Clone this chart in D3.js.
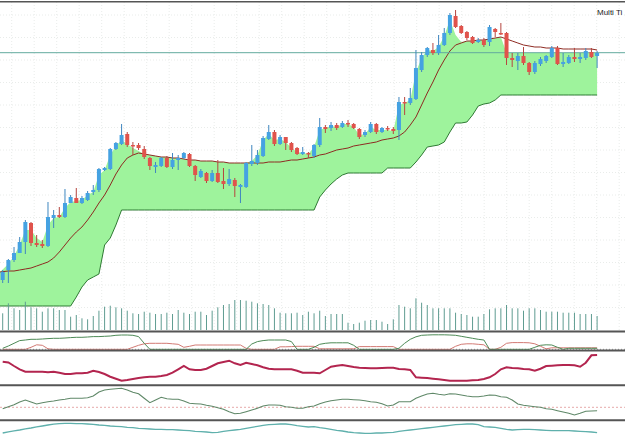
<!DOCTYPE html>
<html>
<head>
<meta charset="utf-8">
<script src="https://cdn.jsdelivr.net/npm/d3@7"></script>
<style>
  body { margin: 0; background: #fff; overflow: hidden; }
  svg { display: block; font-family: "Liberation Sans", "DejaVu Sans", sans-serif; }
</style>
</head>
<body>
<div id="chart"></div>
<script>
// price bars (arbitrary price points)
var open = [50, 60, 70, 77, 88, 107, 87, 86, 84, 112,
    115, 113, 127, 132, 127, 130, 138, 140, 160, 161,
    181, 186, 196, 185, 185, 181, 172, 163, 164, 172,
    163, 170, 172, 176, 164, 153, 157, 149, 157, 149,
    146, 150, 143, 143, 166, 167, 174, 191, 198, 186,
    193, 187, 182, 176, 177, 174, 185, 203, 202, 205,
    203, 207, 206, 201, 195, 198, 206, 198, 202, 201,
    200, 228, 227, 231, 260, 275, 280, 277, 285, 297,
    314, 304, 298, 293, 288, 290, 288, 301, 297, 297,
    272, 269, 274, 267, 258, 266, 269, 273, 282, 266,
    267, 273, 271, 272, 278, 274];
var high = [60, 71, 83, 93, 110, 108, 95, 90, 128, 120,
    123, 141, 135, 142, 134, 139, 145, 162, 163, 182,
    188, 206, 198, 188, 187, 184, 173, 168, 173, 174,
    177, 175, 178, 177, 165, 161, 158, 160, 170, 162,
    161, 152, 146, 168, 185, 180, 194, 205, 200, 195,
    193, 188, 183, 183, 178, 186, 212, 205, 208, 207,
    209, 210, 207, 202, 200, 208, 207, 203, 204, 203,
    233, 233, 242, 280, 278, 283, 287, 295, 302, 317,
    320, 305, 299, 294, 292, 292, 305, 302, 307, 298,
    277, 277, 283, 268, 269, 273, 275, 284, 284, 277,
    275, 282, 277, 282, 282, 279];
var low = [47, 47, 68, 77, 76, 84, 83, 82, 83, 102,
    112, 112, 127, 127, 126, 129, 135, 138, 159, 160,
    180, 185, 183, 175, 180, 171, 160, 157, 163, 162,
    161, 160, 171, 163, 149, 152, 147, 148, 147, 141,
    144, 133, 127, 142, 164, 165, 173, 190, 184, 185,
    180, 178, 175, 175, 172, 172, 183, 197, 199, 200,
    202, 203, 201, 191, 193, 197, 196, 197, 199, 196,
    190, 215, 225, 230, 258, 273, 275, 275, 284, 295,
    302, 296, 290, 286, 287, 283, 284, 293, 295, 265,
    263, 260, 265, 255, 256, 264, 267, 272, 265, 263,
    266, 268, 267, 270, 272, 262];
var close = [58, 70, 77, 88, 108, 87, 85, 84, 113, 115,
    113, 127, 133, 127, 132, 137, 140, 161, 162, 181,
    187, 195, 185, 184, 182, 173, 164, 165, 172, 163,
    170, 172, 177, 164, 155, 159, 149, 157, 148, 146,
    151, 144, 145, 167, 169, 175, 192, 198, 186, 193,
    187, 180, 176, 178, 176, 185, 203, 201, 205, 202,
    207, 206, 202, 193, 198, 206, 198, 202, 201, 199,
    228, 227, 232, 262, 275, 282, 277, 285, 297, 315,
    303, 297, 292, 287, 290, 285, 303, 298, 296, 272,
    270, 274, 267, 258, 267, 271, 274, 282, 266, 268,
    273, 271, 273, 279, 273, 277];
var currentPrice = 277.3;

// moving average
var maLine = [58, 59, 59, 60, 61, 62, 64, 66, 68, 72,
    78, 85, 92, 98, 103, 110, 118, 127, 135, 145,
    156, 165, 172, 175, 177, 176, 175, 174, 173, 173,
    172, 172, 171, 170, 170, 169, 169, 169, 168, 168,
    167, 167, 167, 167, 167, 167, 167, 168, 168, 168,
    169, 170, 170, 171, 172, 173, 175, 176, 178, 180,
    181, 182, 184, 185, 186, 187, 188, 190, 191, 192,
    194, 198, 205, 213, 225, 237, 248, 260, 270, 279,
    285, 287, 289, 289, 290, 290, 291, 292, 293, 291,
    289, 287, 285, 284, 283, 283, 282, 282, 282, 281,
    281, 281, 281, 281, 281, 280];

// trailing stop (lower edge of the band)
var stopLine = [24, 24, 24, 24, 24, 24, 24, 24, 24, 24,
    24, 24, 24, 33, 43, 50, 53, 56, 85, 92,
    105, 120, 120, 120, 120, 120, 120, 120, 120, 120,
    120, 120, 120, 120, 120, 120, 120, 120, 120, 120,
    120, 120, 120, 120, 120, 120, 120, 120, 120, 120,
    120, 120, 120, 120, 120, 120, 133, 140, 146, 151,
    155, 157, 157, 157, 157, 157, 157, 157, 162, 162,
    162, 162, 162, 168, 175, 183, 184, 185, 188, 198,
    207, 207, 208, 215, 224, 226, 227, 230, 235, 235,
    235, 235, 235, 235, 235, 235, 235, 235, 235, 235,
    235, 235, 235, 235, 235, 235];

// upper edge of the band
var bandTop = [58, 66, 74, 85, 100, 100, 92, 88, 105, 112,
    113, 122, 128, 129, 130, 135, 138, 155, 160, 175,
    184, 190, 186, 182, 179, 176, 175, 174, 173, 173,
    172, 172, 171, 170, 170, 169, 169, 169, 168, 168,
    167, 167, 167, 167, 169, 175, 190, 196, 190, 191,
    188, 182, 178, 177, 176, 183, 200, 202, 204, 203,
    206, 206, 203, 195, 196, 203, 200, 200, 200, 199,
    225, 227, 230, 258, 272, 280, 279, 283, 294, 310,
    295, 288, 289, 289, 290, 290, 291, 292, 293, 277,
    277, 277, 277, 277, 277, 277, 277, 277, 277, 277,
    277, 277, 277, 277, 277, 277];

var volume = [16.7, 26.7, 21.7, 20, 28.3, 22.7, 21.7, 18.3, 21.7, 21.7,
    20, 20, 13.3, 15, 11.7, 10.7, 14, 19.3, 23.3, 24.3,
    22.7, 21.7, 19.3, 16.7, 16, 18.3, 17.3, 16, 16, 17.3,
    16, 20, 17.3, 16, 18.3, 18.3, 15, 19.3, 22.7, 25,
    26, 30, 30, 29.3, 28.3, 26.7, 26, 25, 21.7, 17.3,
    16.7, 16.7, 17.3, 15, 18.3, 16.7, 19.3, 14, 16, 16,
    16, 7.3, 6, 7.3, 9.3, 10, 10, 8.3, 6, 10.7,
    25, 23.3, 21.7, 31.7, 27.3, 25, 21.7, 21.7, 21.7, 21.7,
    17.3, 16, 15, 13.3, 13.3, 16, 20.7, 21.7, 21.7, 25,
    21.7, 21.7, 19.3, 21.7, 21.7, 20, 18.3, 18.3, 18.3, 17.3,
    17.3, 17.3, 16, 16, 16, 14];

// panel 2: two directional lines
var dirUp = [1, 3.3, 6, 8.7, 9.3, 10, 10, 10.3, 10.7, 11,
    11, 11.3, 11.7, 12, 12, 12.3, 12.7, 12.7, 13, 13.3,
    14, 14.3, 14.3, 14, 12.7, 6, 0, 0, 0, 0,
    0, 0, 0, 0, 0, 0, 0, 0, 0, 0,
    0, 0, 0, 0, 5.3, 7.7, 8.7, 9.3, 9.3, 9.3,
    9.3, 7.7, 0, 0, 0, 2, 5, 6, 6.5, 6.5,
    6.5, 6.5, 4, 0, 0, 0, 0, 0, 0, 0,
    1, 6, 10, 12.5, 14, 14.3, 14.5, 14.5, 14.5, 14.3,
    14, 13, 12, 11, 10, 9.3, 0, 0, 0, 0,
    0, 0, 0, 0, 2, 4, 4.5, 4.3, 2, 0,
    1, 1, 1, 1, 1, 1];
var dirDown = [0, 0, 0, 0, 0, 2, 4.5, 4, 0.5, 0,
    0, 0, 0, 0, 0, 0, 0, 0, 0, 0,
    0, 0, 0, 2, 4, 5.5, 6, 6, 6, 6,
    5.5, 5, 2, 3, 4.3, 4.3, 4.3, 4.3, 4.3, 4.3,
    4.3, 4.3, 4.3, 1, 0, 0, 0, 0, 0, 2.5,
    2.5, 2.7, 3, 3, 3, 3, 0.5, 0.5, 0.5, 0.5,
    0.5, 0.5, 0.5, 2.7, 2.7, 2.7, 2.7, 2.7, 2.7, 2.7,
    0, 0, 0, 0, 0, 0, 0, 0, 0, 0,
    3, 5, 5.5, 5.5, 5, 4.5, 0, 0, 2, 6,
    6.7, 6.7, 6.7, 6.5, 5.5, 3, 0.5, 1.5, 1.5, 1.5,
    1.5, 1.5, 1.5, 1.5, 1.5, 1.5];

// panel 3
var oscA = [23.3, 22.5, 19, 15.7, 13.3, 13.3, 13.3, 13.3, 12.7, 13.3,
    12.3, 11, 11, 11.7, 11.7, 12.3, 14.3, 13, 11, 8.3,
    6.3, 4.3, 5, 6, 7, 7.7, 8.3, 8.3, 9, 10,
    12.3, 15.7, 19, 15.7, 15, 15, 16.3, 19, 21.7, 23,
    24.3, 21.7, 20, 22.3, 21, 19.7, 17.7, 16.3, 15.7, 15.7,
    15.7, 15.7, 14.3, 12.3, 12.3, 12.3, 11.7, 15, 18.3, 19.3,
    20, 19, 18, 17.3, 17, 16.7, 16.7, 17, 17.3, 17.3,
    16, 15.7, 15, 7.7, 7.3, 7, 6.3, 5.7, 5, 4.3,
    4.3, 4.3, 4.3, 4.7, 5, 6, 7.7, 11, 15.7, 17.7,
    17, 16.7, 16, 15.7, 14.3, 16.3, 19, 19.3, 19.7, 20,
    20, 19.7, 18.3, 22.3, 29.7, 30];

// panel 4
var oscB = [11.3, 13.3, 15.3, 18, 20, 18, 16, 17.3, 18.3, 19,
    20, 20.7, 21.7, 21.7, 21.7, 22.3, 24, 28, 30, 30.7,
    31.3, 31.7, 30, 27.7, 26.3, 21.7, 17.3, 20, 22.7, 21.3,
    20.7, 20.7, 19, 16.7, 16.3, 16, 14.7, 13.7, 12.3, 10.7,
    8.3, 6.3, 6.7, 8.3, 10, 11.7, 14, 15, 15, 14.7,
    13.3, 12.7, 11.7, 11.7, 13.3, 14, 16.3, 18, 19.3, 20,
    20.7, 20.7, 20.3, 20, 19.3, 18.3, 17.7, 16.3, 14, 15,
    18.3, 18.3, 18.3, 21.7, 24, 26, 26.7, 25.7, 25, 26.3,
    26, 25, 24, 23.3, 23.3, 24, 25, 24.7, 23.3, 22.7,
    20, 16, 14.7, 14, 13.3, 12.7, 11.3, 10.7, 9.3, 8,
    6.7, 5, 6.7, 8.7, 9, 9.3];
var oscBMid = 12.7;

// panel 5
var oscC = [2, 3.2, 4.1, 5, 6.2, 7, 8.1, 9, 10, 10.8,
    11.3, 11.7, 11.7, 11.3, 11.3, 11, 10.7, 10, 9.7, 9,
    8.7, 8.3, 7.7, 7.3, 6.7, 6.3, 6, 5.7, 5.7, 5.3,
    5.3, 5, 4.7, 4.3, 3.7, 3.3, 3, 2.3, 2.7, 3.7,
    4.3, 5, 5.7, 6.7, 7.7, 8.7, 9.7, 10.3, 10.7, 11,
    11, 10.3, 9.3, 8.7, 8, 8.3, 7.3, 6.7, 5.7, 4.7,
    4, 3, 2.3, 2, 1.7, 1.7, 2, 2, 2.3, 2.7,
    3.7, 4.3, 5, 5.7, 6.3, 7, 7.7, 8.3, 9, 9.7,
    10.3, 10.7, 11, 11, 10.3, 8.3, 8, 7.7, 6.7, 5.7,
    5, 5.3, 5.7, 5.7, 5.3, 5, 4.7, 4.3, 4.3, 4.3,
    4.3, 4, 3.7, 3.3, 3, 2.3];

var title = "Multi Ti";

var width = 625,
    height = 435;

var bars = open.map(function (o, i) {
    return { i: i, o: o, h: high[i], l: low[i], c: close[i] };
});

var x = d3.scaleLinear().domain([0, open.length - 1]).range([2.7, 597.1]);
var y = d3.scaleLinear().domain([0, 330]).range([330, 0]);
var yVol = d3.scaleLinear().domain([0, 40]).range([330, 290]);
var yDir = d3.scaleLinear().domain([0, 17]).range([349.3, 332.3]);
var yA = d3.scaleLinear().domain([0, 34]).range([385, 351]);
var yB = d3.scaleLinear().domain([0, 34]).range([420, 386]);
var yC = d3.scaleLinear().domain([0, 14]).range([435, 421]);

// band runs to the left edge of the window
function bandX(d) {
    return d.i === 0 ? 0 : x(d.i);
}

var svg = d3.select('#chart')
    .append('svg')
    .attr('width', width)
    .attr('height', height);

svg.append('rect')
    .attr('width', width)
    .attr('height', height)
    .attr('fill', '#fff');

svg.append('clipPath').attr('id', 'mainClip')
    .append('rect')
    .attr('x', 0).attr('y', 2)
    .attr('width', width).attr('height', 329);

var main = svg.append('g').attr('clip-path', 'url(#mainClip)');

// faint dotted grid
var grid = main.append('g')
    .attr('stroke', '#e9ecea')
    .attr('stroke-dasharray', '1,2');
grid.selectAll('line.v')
    .data(d3.range(11.7, width, 22.5))
    .enter().append('line')
    .attr('x1', function (d) { return d; })
    .attr('x2', function (d) { return d; })
    .attr('y1', 2).attr('y2', 330);
grid.selectAll('line.h')
    .data(d3.range(15, 330, 22.5))
    .enter().append('line')
    .attr('x1', 0).attr('x2', width)
    .attr('y1', function (d) { return d; })
    .attr('y2', function (d) { return d; });

// green band
var band = d3.area()
    .x(bandX)
    .y0(function (d) { return y(stopLine[d.i]); })
    .y1(function (d) { return y(bandTop[d.i]); });

main.append('path')
    .datum(bars)
    .attr('d', band)
    .attr('fill', '#9ef39c');

var stopPath = d3.line()
    .x(bandX)
    .y(function (d) { return y(stopLine[d.i]); });

main.append('path')
    .datum(bars)
    .attr('d', stopPath)
    .attr('fill', 'none')
    .attr('stroke', '#2f7a34')
    .attr('stroke-width', 1);

var maPath = d3.line()
    .x(bandX)
    .y(function (d) { return y(maLine[d.i]); });

main.append('path')
    .datum(bars)
    .attr('d', maPath)
    .attr('fill', 'none')
    .attr('stroke', '#8e2a22')
    .attr('stroke-width', 1);

// current price line
main.append('line')
    .attr('x1', 0).attr('x2', width)
    .attr('y1', y(currentPrice)).attr('y2', y(currentPrice))
    .attr('stroke', '#63ab9e')
    .attr('stroke-width', 1);

// candles
var candles = main.selectAll('g.candle')
    .data(bars)
    .enter().append('g')
    .attr('class', 'candle');

candles.append('line')
    .attr('x1', function (d) { return x(d.i); })
    .attr('x2', function (d) { return x(d.i); })
    .attr('y1', function (d) { return y(d.h); })
    .attr('y2', function (d) { return y(d.l); })
    .attr('stroke', function (d) { return d.c >= d.o ? '#3f86bf' : '#b5453f'; })
    .attr('stroke-width', 1);

candles.append('rect')
    .attr('x', function (d) { return x(d.i) - 2; })
    .attr('width', 4)
    .attr('y', function (d) { return y(Math.max(d.o, d.c)); })
    .attr('height', function (d) { return Math.max(1.5, Math.abs(y(d.o) - y(d.c))); })
    .attr('fill', function (d) { return d.c >= d.o ? '#45a2e2' : '#e0534c'; });

// volume
main.selectAll('line.vol')
    .data(bars)
    .enter().append('line')
    .attr('class', 'vol')
    .attr('x1', function (d) { return x(d.i); })
    .attr('x2', function (d) { return x(d.i); })
    .attr('y1', yVol(0))
    .attr('y2', function (d) { return yVol(volume[d.i]); })
    .attr('stroke', '#5f9c91')
    .attr('stroke-width', 1);

// panel 2
svg.append('line')
    .attr('x1', 0).attr('x2', width)
    .attr('y1', yDir(0)).attr('y2', yDir(0))
    .attr('stroke', '#999')
    .attr('stroke-dasharray', '1,2');

function drawLine(values, scale, color, w) {
    var gen = d3.line()
        .x(function (d, i) { return x(i); })
        .y(function (d) { return scale(d); });
    svg.append('path')
        .datum(values)
        .attr('d', gen)
        .attr('fill', 'none')
        .attr('stroke', color)
        .attr('stroke-width', w);
}

drawLine(dirDown, yDir, '#d27a74', 1);
drawLine(dirUp, yDir, '#4d8a56', 1);

// panel 3
drawLine(oscA, yA, '#b3254f', 2);

// panel 4
svg.append('line')
    .attr('x1', 0).attr('x2', width)
    .attr('y1', yB(oscBMid)).attr('y2', yB(oscBMid))
    .attr('stroke', '#e6a9a9')
    .attr('stroke-dasharray', '2,2');
drawLine(oscB, yB, '#5f8868', 1.1);

// panel 5
drawLine(oscC, yC, '#5fb0ac', 1.3);

// panel borders
var borders = [1.7, 331.5, 350.5, 385.3, 420.3];
svg.selectAll('line.border')
    .data(borders)
    .enter().append('line')
    .attr('class', 'border')
    .attr('x1', 0).attr('x2', width)
    .attr('y1', function (d) { return d; })
    .attr('y2', function (d) { return d; })
    .attr('stroke', '#555')
    .attr('stroke-width', function (d, i) { return i === 0 ? 1.5 : 2; });

svg.append('text')
    .attr('x', 597)
    .attr('y', 15)
    .attr('font-size', 8)
    .attr('fill', '#222')
    .text(title);
</script>
</body>
</html>
